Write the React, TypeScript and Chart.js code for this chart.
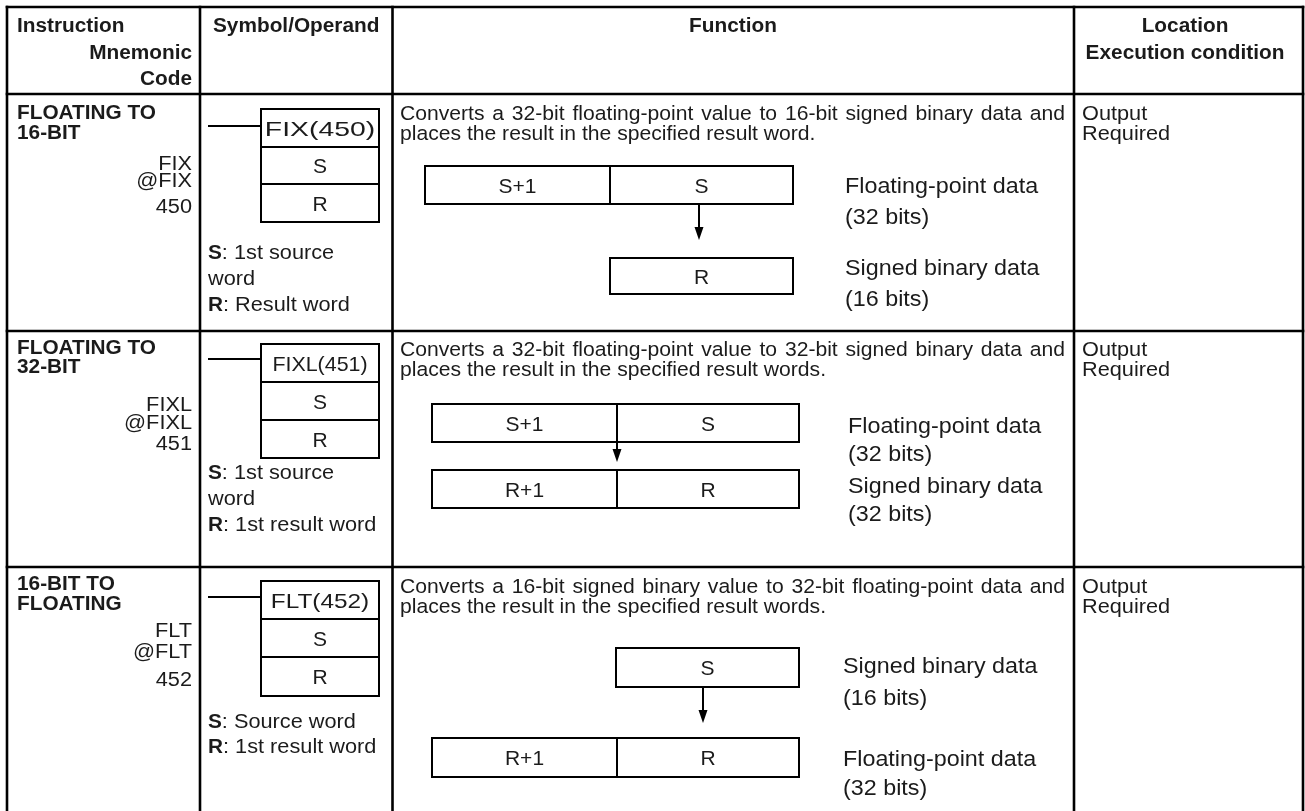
import React, { useEffect, useRef } from "react";
import { Chart, registerables } from "chart.js";

Chart.register(...registerables);

// ---------------- DATA ----------------
const headerInstruction = ["Instruction", "Mnemonic", "Code"];
const headerSymbol = ["Symbol/Operand"];
const headerFunction = ["Function"];
const headerLocation = ["Location", "Execution condition"];

const instructionNames = [
  ["FLOATING TO", "16-BIT"],
  ["FLOATING TO", "32-BIT"],
  ["16-BIT TO", "FLOATING"],
];
const mnemonicCodes = [
  ["FIX", "@FIX", "450"],
  ["FIXL", "@FIXL", "451"],
  ["FLT", "@FLT", "452"],
];
const symbolCells = [
  ["FIX(450)", "S", "R"],
  ["FIXL(451)", "S", "R"],
  ["FLT(452)", "S", "R"],
];
const operandNotes = [
  [["S", ": 1st source"], ["", "word"], ["R", ": Result word"]],
  [["S", ": 1st source"], ["", "word"], ["R", ": 1st result word"]],
  [["S", ": Source word"], ["R", ": 1st result word"]],
];
const functionTexts = [
  [
    "Converts a 32-bit floating-point value to 16-bit signed binary data and",
    "places the result in the specified result word.",
  ],
  [
    "Converts a 32-bit floating-point value to 32-bit signed binary data and",
    "places the result in the specified result words.",
  ],
  [
    "Converts a 16-bit signed binary value to 32-bit floating-point data and",
    "places the result in the specified result words.",
  ],
];
const sourceWords = [["S+1", "S"], ["S+1", "S"], ["S"]];
const resultWords = [["R"], ["R+1", "R"], ["R+1", "R"]];
const sourceLabels = [
  ["Floating-point data", "(32 bits)"],
  ["Floating-point data", "(32 bits)"],
  ["Signed binary data", "(16 bits)"],
];
const resultLabels = [
  ["Signed binary data", "(16 bits)"],
  ["Signed binary data", "(32 bits)"],
  ["Floating-point data", "(32 bits)"],
];
const locations = ["Output", "Output", "Output"];
const conditions = ["Required", "Required", "Required"];

// ---------------- LAYOUT (positions in page units) ----------------
const W = 1305;
const H = 811;
const GRID_X = [7, 200, 392.5, 1074, 1303];
const GRID_Y = [7, 94, 331, 567];
const FUNC_TEXT = { x: 400, justifyRight: 1065 };

const HEADER_LAYOUT = {
  instr: { x: 17, y: 32 },
  mnemRight: 192,
  mnemY: [59, 85],
  symbol: { x: 213, y: 32 },
  func: { x: 733, y: 32 },
  loc: { x: 1185, y: [32, 59] },
};

const ROW_LAYOUT = [
  {
    name: [119, 139],
    mnem: [170, 187, 213],
    lead: 126,
    box: [109, 147, 184, 222],
    boxSx: [1.35, 1, 1],
    notes: [259, 285, 311],
    func: [120, 140],
    src: { edges: [425, 610, 793], y0: 166, y1: 204 },
    arrow: { x: 699, y0: 204, y1: 240 },
    res: { edges: [610, 793], y0: 258, y1: 294 },
    labelX: 845,
    srcLbl: [193, 224],
    resLbl: [275, 306],
    loc: [120, 140],
  },
  {
    name: [354, 373],
    mnem: [411, 429, 450],
    lead: 359,
    box: [344, 382, 420, 458],
    boxSx: [1.02, 1, 1],
    notes: [479, 505, 531],
    func: [356, 376],
    src: { edges: [432, 617, 799], y0: 404, y1: 442 },
    arrow: { x: 617, y0: 442, y1: 462 },
    res: { edges: [432, 617, 799], y0: 470, y1: 508 },
    labelX: 848,
    srcLbl: [433, 461],
    resLbl: [493, 521],
    loc: [356, 376],
  },
  {
    name: [590, 610],
    mnem: [637, 658, 686],
    lead: 597,
    box: [581, 619, 657, 696],
    boxSx: [1.16, 1, 1],
    notes: [728, 753],
    func: [593, 613],
    src: { edges: [616, 799], y0: 648, y1: 687 },
    arrow: { x: 703, y0: 687, y1: 723 },
    res: { edges: [432, 617, 799], y0: 738, y1: 777 },
    labelX: 843,
    srcLbl: [673, 705],
    resLbl: [766, 795],
    loc: [593, 613],
  },
];

const FAM = "'Liberation Sans', Arial, Helvetica, sans-serif";
const STYLE = {
  bold: { font: `bold 20px ${FAM}`, sx: 1.04 },
  reg: { font: `20.5px ${FAM}`, sx: 1.06 },
  func: { font: `20.5px ${FAM}`, sx: 1.03 },
  lbl: { font: `22px ${FAM}`, sx: 1.06 },
  box: { font: `21px ${FAM}`, sx: 1.0, cap: 15 },
  ink: "#1b1b1b",
  grid: 2.6,
  thin: 2,
};

// ---------------- DRAWING ----------------
type St = { font: string; sx: number };

const tablePlugin = {
  id: "instructionTable",
  afterDraw(chart: any) {
    const ctx: CanvasRenderingContext2D = chart.ctx;
    const sx = chart.scales.x;
    const sy = chart.scales.y;
    const X = (v: number) => sx.getPixelForValue(v);
    const Y = (v: number) => sy.getPixelForValue(v);

    const text = (s: string, x: number, y: number, st: St, align: CanvasTextAlign = "left", extra = 1) => {
      ctx.save();
      ctx.fillStyle = STYLE.ink;
      ctx.font = st.font;
      ctx.textAlign = align;
      ctx.textBaseline = "alphabetic";
      ctx.translate(X(x), Y(y));
      ctx.scale(st.sx * extra, 1);
      ctx.fillText(s, 0, 0);
      ctx.restore();
    };
    const width = (s: string, st: St) => {
      ctx.save();
      ctx.font = st.font;
      const w = ctx.measureText(s).width * st.sx;
      ctx.restore();
      return w;
    };
    const justified = (s: string, x0: number, x1: number, y: number, st: St) => {
      const words = s.split(" ");
      const ws = words.map((w) => width(w, st));
      const total = ws.reduce((a, b) => a + b, 0);
      const span = X(x1) - X(x0);
      const gap = words.length > 1 ? (span - total) / (words.length - 1) : 0;
      let px = X(x0);
      words.forEach((w, i) => {
        ctx.save();
        ctx.fillStyle = STYLE.ink;
        ctx.font = st.font;
        ctx.textAlign = "left";
        ctx.translate(px, Y(y));
        ctx.scale(st.sx, 1);
        ctx.fillText(w, 0, 0);
        ctx.restore();
        px += ws[i] + gap;
      });
    };
    const line = (x0: number, y0: number, x1: number, y1: number, lw: number) => {
      ctx.save();
      ctx.strokeStyle = "#000";
      ctx.lineWidth = lw;
      ctx.lineCap = "butt";
      ctx.beginPath();
      ctx.moveTo(X(x0), Y(y0));
      ctx.lineTo(X(x1), Y(y1));
      ctx.stroke();
      ctx.restore();
    };
    const rect = (x0: number, y0: number, x1: number, y1: number, lw: number) => {
      ctx.save();
      ctx.strokeStyle = "#000";
      ctx.lineWidth = lw;
      ctx.strokeRect(X(x0), Y(y0), X(x1) - X(x0), Y(y1) - Y(y0));
      ctx.restore();
    };

    // background
    ctx.save();
    ctx.fillStyle = "#fff";
    ctx.fillRect(X(0), Y(0), X(W) - X(0), Y(H) - Y(0));
    ctx.restore();

    // grid lines
    const gx0 = GRID_X[0] - STYLE.grid / 2;
    const gx1 = GRID_X[GRID_X.length - 1] + STYLE.grid / 2;
    GRID_Y.forEach((gy) => line(gx0, gy, gx1, gy, STYLE.grid));
    GRID_X.forEach((gx) => line(gx, GRID_Y[0] - STYLE.grid / 2, gx, H, STYLE.grid));

    // header
    const HL = HEADER_LAYOUT;
    text(headerInstruction[0], HL.instr.x, HL.instr.y, STYLE.bold);
    text(headerInstruction[1], HL.mnemRight, HL.mnemY[0], STYLE.bold, "right");
    text(headerInstruction[2], HL.mnemRight, HL.mnemY[1], STYLE.bold, "right");
    text(headerSymbol[0], HL.symbol.x, HL.symbol.y, STYLE.bold);
    text(headerFunction[0], HL.func.x, HL.func.y, STYLE.bold, "center");
    headerLocation.forEach((s, i) => text(s, HL.loc.x, HL.loc.y[i], STYLE.bold, "center"));

    const capOff = STYLE.box.cap / 2;

    ROW_LAYOUT.forEach((L, r) => {
      // instruction name + mnemonic
      instructionNames[r].forEach((s, i) => text(s, 17, L.name[i], STYLE.bold));
      mnemonicCodes[r].forEach((s, i) => text(s, 192, L.mnem[i], STYLE.reg, "right"));

      // ladder symbol
      line(208, L.lead, 261, L.lead, STYLE.thin);
      rect(261, L.box[0], 379, L.box[3], STYLE.thin);
      line(261, L.box[1], 379, L.box[1], STYLE.thin);
      line(261, L.box[2], 379, L.box[2], STYLE.thin);
      symbolCells[r].forEach((s, i) => {
        const cy = (L.box[i] + L.box[i + 1]) / 2;
        text(s, 320, cy + capOff, STYLE.box, "center", L.boxSx[i]);
      });

      // operand notes
      operandNotes[r].forEach(([b, rest], i) => {
        let x = 208;
        if (b) {
          text(b, x, L.notes[i], STYLE.bold);
          x += width(b, STYLE.bold);
        }
        text(rest, x, L.notes[i], STYLE.reg);
      });

      // function description (first line justified, last line ragged)
      functionTexts[r].forEach((s, i) => {
        if (i < functionTexts[r].length - 1) justified(s, FUNC_TEXT.x, FUNC_TEXT.justifyRight, L.func[i], STYLE.func);
        else text(s, FUNC_TEXT.x, L.func[i], STYLE.func);
      });

      // word boxes
      const drawWords = (words: string[], box: { edges: number[]; y0: number; y1: number }) => {
        const e = box.edges;
        rect(e[0], box.y0, e[e.length - 1], box.y1, STYLE.thin);
        for (let k = 1; k < e.length - 1; k++) line(e[k], box.y0, e[k], box.y1, STYLE.thin);
        const cy = (box.y0 + box.y1) / 2;
        words.forEach((w, k) => text(w, (e[k] + e[k + 1]) / 2, cy + capOff, STYLE.box, "center"));
      };
      drawWords(sourceWords[r], L.src);
      drawWords(resultWords[r], L.res);

      // arrow
      const A = L.arrow;
      const head = 13;
      line(A.x, A.y0, A.x, A.y1 - head + 1, STYLE.thin);
      ctx.save();
      ctx.fillStyle = "#000";
      ctx.beginPath();
      ctx.moveTo(X(A.x - 4.5), Y(A.y1 - head));
      ctx.lineTo(X(A.x + 4.5), Y(A.y1 - head));
      ctx.lineTo(X(A.x), Y(A.y1));
      ctx.closePath();
      ctx.fill();
      ctx.restore();

      // labels
      sourceLabels[r].forEach((s, i) => text(s, L.labelX, L.srcLbl[i], STYLE.lbl));
      resultLabels[r].forEach((s, i) => text(s, L.labelX, L.resLbl[i], STYLE.lbl));

      // location
      text(locations[r], 1082, L.loc[0], STYLE.reg);
      text(conditions[r], 1082, L.loc[1], STYLE.reg);
    });
  },
};

export default function App() {
  const ref = useRef<HTMLCanvasElement | null>(null);
  useEffect(() => {
    document.body.style.margin = "0";
    if (!ref.current) return;
    const chart = new Chart(ref.current, {
      type: "scatter",
      data: { datasets: [{ data: [], pointRadius: 0 }] },
      options: {
        animation: false,
        responsive: false,
        devicePixelRatio: 1,
        layout: { padding: 0 },
        events: [],
        plugins: { legend: { display: false }, tooltip: { enabled: false } },
        scales: {
          x: { type: "linear", min: 0, max: W, display: false },
          y: { type: "linear", min: 0, max: H, reverse: true, display: false },
        },
      },
      plugins: [tablePlugin],
    });
    return () => chart.destroy();
  }, []);
  return (
    <div style={{ width: W, height: H, background: "#fff" }}>
      <canvas ref={ref} width={W} height={H} style={{ display: "block" }} />
    </div>
  );
}
